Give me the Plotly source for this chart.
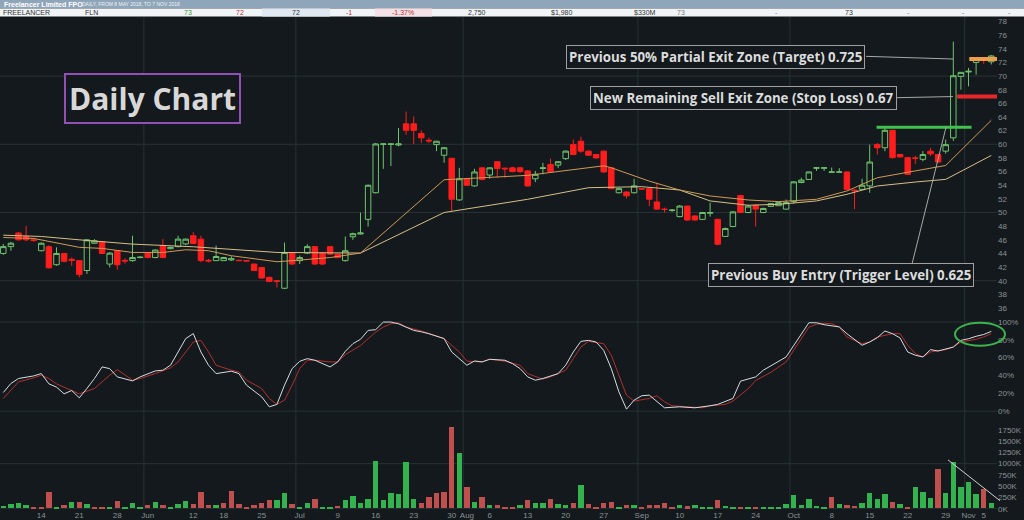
import pandas as pd
import plotly.graph_objects as go

# ASX trading sessions on the chart (Queen's Birthday 11 Jun closed)
sessions = pd.bdate_range("2018-05-07", "2018-11-06")
sessions = sessions[sessions != pd.Timestamp("2018-06-11")]
days = [d.strftime("%Y-%m-%d") for d in sessions]

# prices in cents
opens = [44.0, 45.0, 47.0, 46.5, 46.0, 44.4, 45.0, 42.35, 44.0, 43.15,
         42.95, 41.5, 45.5, 45.7, 42.45, 44.4, 43.0, 42.95, 43.4, 44.05,
         43.4, 45.15, 44.7, 45.0, 45.4, 46.6, 46.1, 43.0, 42.95, 42.95,
         43.05, 43.0, 42.95, 42.45, 41.95, 40.5, 40.0, 38.9, 44.05, 42.95,
         44.05, 45.0, 44.05, 45.0, 43.9, 42.95, 46.45, 46.85, 49.0, 52.9,
         60.0, 60.0, 59.9, 63.0, 63.0, 61.6, 60.6, 59.95, 58.4, 57.95,
         51.85, 54.95, 53.9, 56.55, 55.5, 57.45, 56.5, 56.55, 56.55, 56.1,
         54.95, 56.45, 57.05, 56.95, 57.9, 59.95, 60.45, 59.0, 58.5, 59.0,
         56.55, 52.9, 53.0, 52.9, 53.5, 53.5, 51.55, 50.5, 50.3, 49.4,
         50.95, 49.5, 49.0, 49.9, 49.0, 46.5, 47.95, 52.5, 50.0, 51.05,
         50.0, 50.9, 51.0, 50.5, 51.6, 54.4, 54.85, 56.5, 56.5, 55.9,
         55.9, 55.95, 53.3, 53.4, 53.9, 59.95, 59.5, 62.05, 58.5, 58.05,
         58.0, 57.8, 59.0, 58.5, 59.0, 60.95, 69.95, 70.6, 72.0, 72.35, 72.1]
highs = [45.4, 45.7, 47.1, 48.05, 46.3, 45.6, 45.2, 44.9, 44.1, 43.4,
         43.0, 46.1, 46.1, 45.8, 44.2, 44.5, 43.3, 46.6, 43.6, 44.2,
         44.6, 46.1, 45.0, 46.6, 46.2, 47.1, 46.6, 43.2, 45.15, 43.5,
         43.6, 43.05, 43.0, 42.5, 42.0, 40.6, 40.1, 45.6, 44.2, 43.7,
         45.35, 45.1, 44.1, 45.1, 44.0, 46.5, 47.05, 50.0, 54.1, 60.2,
         60.1, 60.1, 62.4, 64.8, 64.1, 62.05, 60.95, 60.5, 59.6, 58.0,
         56.55, 55.0, 56.4, 56.6, 56.6, 57.5, 56.6, 56.7, 56.7, 56.2,
         56.1, 57.3, 57.9, 57.5, 59.1, 60.7, 61.1, 59.1, 58.6, 59.1,
         56.6, 53.6, 53.1, 54.95, 53.6, 53.6, 54.35, 50.7, 50.5, 51.1,
         51.0, 49.6, 50.1, 51.45, 49.1, 47.8, 50.2, 52.6, 51.1, 51.2,
         50.7, 51.3, 51.6, 51.9, 54.6, 55.1, 56.0, 56.6, 56.6, 56.6,
         56.5, 56.0, 53.4, 54.95, 59.95, 60.2, 62.4, 62.1, 58.6, 58.1,
         58.3, 59.0, 59.5, 58.6, 60.7, 75.05, 70.6, 71.2, 72.6, 72.7, 73.1]
lows = [43.8, 44.4, 45.9, 45.8, 45.7, 44.3, 41.8, 42.2, 42.7, 42.2,
        40.5, 41.0, 45.4, 43.9, 41.95, 41.6, 42.5, 42.8, 43.3, 43.3,
        43.3, 43.3, 44.6, 44.9, 45.2, 45.35, 42.7, 42.7, 42.9, 42.9,
        42.9, 42.9, 42.85, 41.4, 40.3, 39.8, 39.0, 38.8, 42.3, 42.45,
        43.9, 42.3, 42.3, 43.8, 43.3, 42.8, 46.0, 46.8, 47.95, 52.8,
        56.4, 56.8, 59.7, 61.4, 60.05, 60.2, 60.2, 59.0, 57.3, 50.25,
        51.7, 53.9, 53.8, 54.7, 54.95, 55.1, 55.1, 55.9, 55.8, 53.8,
        54.45, 55.6, 55.85, 56.55, 57.7, 58.4, 58.75, 58.3, 57.9, 55.8,
        53.4, 52.8, 52.05, 52.8, 53.4, 50.95, 50.4, 50.0, 50.1, 49.3,
        48.8, 48.8, 48.9, 49.4, 45.2, 46.4, 47.85, 49.9, 49.9, 47.95,
        49.9, 50.9, 51.0, 50.4, 51.3, 54.3, 54.8, 56.1, 56.1, 55.85,
        55.85, 53.3, 50.5, 53.3, 52.9, 58.5, 59.0, 57.9, 58.1, 55.5,
        57.1, 57.5, 58.3, 57.3, 58.65, 60.5, 68.0, 68.5, 70.2, 71.8, 71.7]
closes = [45.0, 45.5, 46.0, 46.0, 45.9, 45.5, 41.9, 44.0, 42.85, 43.0,
          40.9, 46.0, 45.85, 44.0, 44.05, 42.35, 42.9, 43.4, 43.45, 43.4,
          44.5, 43.4, 44.9, 46.1, 46.1, 45.45, 42.95, 42.9, 43.55, 43.4,
          43.25, 42.95, 42.9, 41.5, 40.4, 39.9, 39.9, 44.15, 42.45, 43.4,
          45.0, 42.45, 42.45, 43.9, 43.4, 44.4, 46.9, 47.0, 54.0, 60.05,
          60.05, 60.05, 60.05, 62.05, 62.05, 60.95, 60.5, 60.45, 59.5, 51.95,
          54.95, 54.0, 55.95, 54.85, 56.55, 56.45, 56.4, 56.0, 56.0, 53.9,
          55.6, 56.55, 56.0, 57.45, 59.0, 58.5, 59.0, 58.4, 58.0, 55.95,
          53.5, 53.5, 52.45, 53.9, 53.45, 51.95, 50.5, 50.45, 50.35, 50.95,
          48.9, 48.9, 50.0, 50.0, 45.35, 47.65, 50.1, 50.0, 50.95, 50.5,
          50.6, 51.3, 51.45, 51.45, 54.5, 54.75, 55.95, 56.55, 56.55, 55.95,
          55.95, 53.4, 53.2, 54.0, 57.4, 59.5, 62.05, 58.05, 58.15, 55.6,
          57.95, 58.5, 58.6, 57.4, 59.95, 70.05, 70.55, 70.7, 72.5, 72.3, 72.95]
volumes_k = [52, 103, 125, 74, 37, 30, 368, 37, 74, 147,
             147, 88, 37, 15, 37, 155, 15, 125, 15, 66,
             147, 74, 37, 88, 170, 88, 368, 66, 74, 125,
             376, 103, 22, 74, 118, 184, 184, 346, 88, 15,
             125, 206, 37, 37, 52, 184, 273, 125, 199, 1047,
             192, 332, 310, 1032, 214, 120, 258, 346, 368, 1806,
             1231, 479, 147, 258, 66, 74, 37, 30, 74, 177,
             118, 118, 199, 88, 74, 118, 516, 88, 30, 125,
             147, 37, 66, 74, 15, 66, 66, 118, 22, 66,
             44, 81, 15, 37, 184, 52, 37, 37, 30, 37,
             37, 22, 22, 103, 287, 74, 214, 52, 30, 251,
             88, 74, 52, 125, 346, 199, 324, 140, 88, 37,
             472, 368, 236, 884, 332, 1032, 472, 582, 324, 420, 110]

# moving averages (session number, value)
fast_ma_day = [0, 4, 10, 13, 17, 21, 24, 27, 30, 36, 38, 43, 47, 58, 69, 75, 79, 80,
               85, 89, 93, 98, 102, 107, 111, 115, 120, 124, 130]
fast_ma = [46.34, 46.2, 44.9, 44.74, 44.15, 44.15, 44.54, 44.4, 43.67, 42.79, 42.94,
           43.4, 44.06, 54.8, 55.45, 56.3, 56.85, 56.56, 54.6, 53.3, 52.43, 51.84,
           51.6, 51.94, 53.16, 55.1, 56.08, 56.9, 63.52]
slow_ma_day = [0, 5, 10, 13, 17, 25, 36, 47, 58, 69, 77, 84, 89, 93, 98, 102, 107,
               111, 115, 120, 124, 130]
slow_ma = [46.68, 46.49, 46.0, 45.7, 45.37, 44.98, 44.15, 44.06, 50.0, 51.94, 53.64,
           53.79, 53.3, 51.7, 51.07, 51.2, 51.7, 52.67, 53.89, 54.47, 54.86, 58.37]

# stochastic %K / %D (session number, percent)
k_day = [0, 1, 2, 4, 5, 6, 7, 8, 9, 10, 11, 12, 13, 14, 15, 16, 17, 18, 20, 21, 22,
         23, 24, 25, 26, 27, 28, 30, 31, 32, 34, 35, 36, 37, 38, 39, 40, 41, 43, 44,
         45, 46, 47, 48, 49, 50, 51, 52, 54, 55, 56, 58, 59, 61, 62, 63, 64, 66, 67,
         68, 69, 70, 71, 73, 74, 75, 76, 77, 78, 79, 80, 81, 82, 83, 84, 85, 86, 87,
         89, 91, 93, 94, 96, 97, 99, 100, 103, 104, 105, 106, 107, 108, 110, 111,
         113, 114, 115, 116, 117, 118, 119, 120, 121, 122, 123, 125, 126, 127, 128,
         129, 130]
k_pct = [20.9, 31.0, 36.6, 39.5, 42.1, 30.6, 26.9, 19.4, 23.1, 14.9, 25.4, 36.6, 49.6,
         47.7, 38.4, 35.8, 33.9, 38.4, 45.1, 45.9, 51.5, 66.4, 81.4, 87.0, 66.4, 51.5,
         42.1, 44.8, 42.1, 29.1, 16.0, 4.8, 7.5, 29.1, 47.7, 55.9, 58.9, 57.1, 49.6,
         55.2, 67.1, 75.7, 80.6, 90.6, 91.4, 99.9, 100.0, 98.0, 90.6, 89.0, 86.9, 81.4,
         66.4, 51.5, 56.3, 55.2, 58.2, 57.1, 53.3, 47.7, 38.4, 34.7, 36.6, 42.1, 51.5,
         66.4, 78.3, 79.4, 77.6, 68.2, 47.7, 21.6, 2.2, 12.3, 17.2, 17.9, 10.4, 3.7,
         4.8, 3.7, 6.0, 7.5, 14.2, 33.6, 38.4, 45.9, 60.8, 73.9, 86.9, 99.2, 99.2,
         97.0, 94.5, 86.9, 73.9, 77.6, 82.4, 89.9, 86.9, 82.1, 66.4, 62.7, 60.8, 69.0,
         67.5, 71.9, 79.4, 81.2, 84.0, 86.0, 89.5]
d_day = [0, 1, 2, 4, 5, 6, 7, 9, 10, 12, 14, 15, 16, 17, 18, 20, 22, 23, 24, 25, 26,
         27, 28, 30, 31, 32, 34, 35, 36, 37, 38, 39, 40, 41, 43, 44, 45, 46, 47, 48,
         49, 50, 51, 52, 53, 55, 56, 58, 60, 61, 63, 64, 66, 68, 69, 71, 72, 74, 75,
         76, 77, 79, 80, 81, 82, 83, 85, 86, 87, 88, 90, 92, 93, 95, 96, 98, 99, 101,
         103, 104, 105, 106, 107, 108, 109, 110, 111, 113, 114, 115, 117, 118, 119,
         120, 121, 122, 124, 125, 126, 128, 129, 130]
d_pct = [14.2, 23.9, 32.8, 37.3, 40.3, 36.6, 30.6, 23.1, 19.4, 25.4, 40.3, 46.6, 40.3,
         34.7, 36.6, 42.1, 48.5, 55.2, 66.4, 77.6, 79.4, 66.4, 51.5, 45.9, 44.0, 34.7,
         25.4, 14.2, 7.5, 12.3, 29.1, 47.7, 57.1, 57.1, 55.2, 55.2, 63.4, 68.2, 73.7,
         81.2, 88.7, 94.3, 98.1, 99.2, 94.3, 90.0, 86.9, 81.4, 66.4, 56.0, 55.2, 58.2,
         56.0, 51.5, 42.1, 35.8, 38.4, 45.9, 59.0, 71.9, 78.3, 75.7, 62.7, 40.3, 17.9,
         11.2, 14.2, 17.2, 10.4, 6.0, 4.8, 3.7, 6.0, 7.5, 11.2, 25.0, 34.3, 43.6, 55.2,
         68.2, 81.4, 94.3, 97.5, 98.5, 98.1, 94.3, 83.2, 75.7, 77.6, 83.2, 86.9, 86.9,
         73.9, 64.5, 60.8, 66.4, 69.0, 71.9, 77.6, 80.6, 83.2, 86.9]

tick_days = ["2018-05-14", "2018-05-21", "2018-05-28", "2018-06-01", "2018-06-12",
             "2018-06-18", "2018-06-25", "2018-07-02", "2018-07-09", "2018-07-16",
             "2018-07-23", "2018-07-30", "2018-08-01", "2018-08-06", "2018-08-13",
             "2018-08-20", "2018-08-27", "2018-09-03", "2018-09-10", "2018-09-17",
             "2018-09-24", "2018-10-01", "2018-10-08", "2018-10-15", "2018-10-22",
             "2018-10-29", "2018-11-01", "2018-11-05"]
tick_text = ["14", "21", "28", "Jun", "12", "18", "25", "Jul", "9", "16", "23", "30",
             "Aug", "6", "13", "20", "27", "Sep", "10", "17", "24", "Oct", "8", "15",
             "22", "29", "Nov", "5"]

target_level = 72.5
stop_level = 67.0
entry_level = 62.5

BG = "#13191c"
GRID = "#283236"
TICK = "#8a9296"

# page geometry: plot area spans x 0..997 px, y 17..511 px
W, H, PLOT_R, PLOT_T, PLOT_B = 1024, 520, 997, 17, 511


def px(x):
    return x / PLOT_R


def py(y):
    return (PLOT_B - y) / (PLOT_B - PLOT_T)


vol_colors = []
for i, c in enumerate(closes):
    prev = closes[i - 1] if i else opens[0]
    vol_colors.append("#34b24d" if c >= prev else "#c0504e")

fig = go.Figure()
fig.add_trace(go.Candlestick(
    x=days, open=opens, high=highs, low=lows, close=closes,
    increasing=dict(line=dict(color="#6ec46e", width=1), fillcolor="rgba(0,0,0,0)"),
    decreasing=dict(line=dict(color="#ff1d1d", width=1), fillcolor="#ff1d1d"),
    whiskerwidth=0, showlegend=False, xaxis="x", yaxis="y"))
fig.add_trace(go.Scatter(x=[days[i] for i in slow_ma_day], y=slow_ma, mode="lines",
                         line=dict(color="#d8bf86", width=1), showlegend=False,
                         xaxis="x", yaxis="y"))
fig.add_trace(go.Scatter(x=[days[i] for i in fast_ma_day], y=fast_ma, mode="lines",
                         line=dict(color="#cf9a57", width=1), showlegend=False,
                         xaxis="x", yaxis="y"))

fig.add_trace(go.Scatter(x=[days[i] for i in d_day], y=d_pct, mode="lines",
                         line=dict(color="#b3302e", width=1), showlegend=False,
                         xaxis="x2", yaxis="y2"))
fig.add_trace(go.Scatter(x=[days[i] for i in k_day], y=k_pct, mode="lines",
                         line=dict(color="#d5dde0", width=1), showlegend=False,
                         xaxis="x2", yaxis="y2"))

fig.add_trace(go.Bar(x=days, y=[v * 1000 for v in volumes_k], marker_color=vol_colors,
                     marker_line_width=0, width=0.72, showlegend=False,
                     xaxis="x3", yaxis="y3"))

x_common = dict(type="category", categoryorder="array", categoryarray=days,
                range=[-0.434, 130.75], showgrid=False, zeroline=False, showline=False,
                ticks="", fixedrange=True)
y_common = dict(side="right", showgrid=False, zeroline=False, showline=False, ticks="",
                tickfont=dict(family="Liberation Sans", size=8, color=TICK))

fig.update_layout(
    width=W, height=H,
    margin=dict(l=0, r=W - PLOT_R, t=PLOT_T, b=H - PLOT_B),
    paper_bgcolor=BG, plot_bgcolor=BG,
    bargap=0, showlegend=False,
    boxgap=0.28, boxgroupgap=0,  # wider candle bodies
    xaxis=dict(x_common, anchor="y", showticklabels=False, rangeslider=dict(visible=False)),
    xaxis2=dict(x_common, anchor="y2", matches="x", showticklabels=False),
    xaxis3=dict(x_common, anchor="y3", matches="x", tickvals=tick_days, ticktext=tick_text,
                tickangle=0, tickfont=dict(family="Liberation Sans", size=8, color=TICK)),
    yaxis=dict(y_common, domain=[0.3907, 1], range=[34.72, 78.66],
               tickvals=list(range(36, 79, 2))),
    yaxis2=dict(y_common, domain=[0.1842, 0.3907], range=[-8.17, 105.9],
                tickvals=[0, 20, 40, 60, 80, 100],
                ticktext=["0%", "20%", "40%", "60%", "80%", "100%"]),
    yaxis3=dict(y_common, domain=[0, 0.1842], range=[-6600, 2006000],
                tickvals=[k * 250000 for k in range(8)],
                ticktext=[f"{k * 250}K" for k in range(8)]),
)

shapes = []
# horizontal grid lines
for lvl in (40, 50, 60, 70):
    shapes.append(dict(type="line", xref="x domain", yref="y", x0=0, x1=1, y0=lvl, y1=lvl,
                       line=dict(color=GRID, width=1), layer="below"))
for lvl in (0, 100):
    shapes.append(dict(type="line", xref="x2 domain", yref="y2", x0=0, x1=1, y0=lvl, y1=lvl,
                       line=dict(color=GRID, width=1), layer="below"))
for lvl in (0, 1000000):
    shapes.append(dict(type="line", xref="x3 domain", yref="y3", x0=0, x1=1, y0=lvl, y1=lvl,
                       line=dict(color=GRID, width=1), layer="below"))
# month dividers
for i in range(1, len(sessions)):
    if sessions[i].month != sessions[i - 1].month:
        shapes.append(dict(type="line", xref="x", yref="paper", x0=i - 0.5, x1=i - 0.5,
                           y0=0, y1=1, line=dict(color=GRID, width=1), layer="below"))

# trade levels
shapes.append(dict(type="line", xref="x", yref="y", x0=114.9, x1=127.4,
                   y0=entry_level, y1=entry_level, line=dict(color="#3ec44c", width=3)))
shapes.append(dict(type="line", xref="x", yref="y", x0=125.5, x1=130.75,
                   y0=stop_level, y1=stop_level, line=dict(color="#e8262b", width=4)))
shapes.append(dict(type="line", xref="x", yref="y", x0=127.1, x1=130.75,
                   y0=target_level, y1=target_level, line=dict(color="#f29d4a", width=4)))

# connector lines from the note boxes
for x0, y0, x1, y1 in [(866, 56.5, 953, 59.2), (897, 98, 953, 96.9), (912, 265, 946, 127.7)]:
    shapes.append(dict(type="line", xref="paper", yref="paper", x0=px(x0), y0=py(y0),
                       x1=px(x1), y1=py(y1), line=dict(color="#a8a8a8", width=1)))

# green ring on the stochastic, trend line on the volume
shapes.append(dict(type="circle", xref="paper", yref="paper", x0=px(955), x1=px(1005),
                   y0=py(347), y1=py(324), line=dict(color="#3cb44b", width=2)))
shapes.append(dict(type="line", xref="paper", yref="paper", x0=px(948), y0=py(461.7),
                   x1=px(1000), y1=py(502.7), line=dict(color="#d0d0d0", width=1)))

# header strip
shapes.append(dict(type="rect", xref="paper", yref="paper", x0=px(0), x1=px(W),
                   y0=py(8.5), y1=py(0), fillcolor="#8fa5ba", line_width=0))
shapes.append(dict(type="rect", xref="paper", yref="paper", x0=px(0), x1=px(W),
                   y0=py(16.5), y1=py(8.5), fillcolor="#f1f4f7", line_width=0))
shapes.append(dict(type="rect", xref="paper", yref="paper", x0=px(262), x1=px(330),
                   y0=py(16.5), y1=py(8.5), fillcolor="#dfe8f1", line_width=0))
shapes.append(dict(type="rect", xref="paper", yref="paper", x0=px(375), x1=px(432),
                   y0=py(16.5), y1=py(8.5), fillcolor="#f3e0e6", line_width=0))
fig.update_layout(shapes=shapes)

hdr_font = "Liberation Sans Narrow, Liberation Sans, sans-serif"
fig.add_annotation(x=px(2), y=py(4.3), xref="paper", yref="paper", xanchor="left",
                   yanchor="middle", text="<b>Freelancer Limited FPO</b>", showarrow=False,
                   font=dict(family=hdr_font, size=7, color="#ffffff"))
fig.add_annotation(x=px(80), y=py(4.3), xref="paper", yref="paper", xanchor="left",
                   yanchor="middle", text="DAILY, FROM 8 MAY 2018, TO 7 NOV 2018",
                   showarrow=False, font=dict(family=hdr_font, size=5, color="#eef2f6"))
fig.add_annotation(x=px(1), y=py(12.5), xref="paper", yref="paper", text="FREELANCER",
                   xanchor="left", yanchor="middle", showarrow=False,
                   font=dict(family=hdr_font, size=7, color="#333333"))
row = [("FLN", 91, "#333333"), ("73", 188, "#3a9a3a"),
       ("72", 240, "#c03030"), ("72", 296, "#333333"), ("-1", 349, "#c03030"),
       ("-1.37%", 403, "#c03030"), ("2,750", 477, "#333333"), ("$1,980", 562, "#333333"),
       ("$330M", 645, "#333333"), ("73", 681, "#777777"), ("-", 776, "#777777"),
       ("73", 849, "#333333"), ("-", 908, "#777777"), ("-", 963, "#777777"),
       ("-", 1009, "#777777")]
for txt, cx, col in row:
    fig.add_annotation(x=px(cx), y=py(12.5), xref="paper", yref="paper", text=txt,
                       xanchor="center", yanchor="middle", showarrow=False,
                       font=dict(family=hdr_font, size=7, color=col))

# note boxes
note_font = "Open Sans, Noto Sans, sans-serif"
fig.add_annotation(x=px(152), y=py(98.5), xref="paper", yref="paper", text="Daily Chart",
                   xanchor="center", yanchor="middle",
                   showarrow=False, bgcolor=BG, bordercolor="#9150b3", borderwidth=2,
                   borderpad=3,
                   font=dict(family=note_font, size=30, color="#d8d8d8", weight="bold"))
notes = [("Previous 50% Partial Exit Zone (Target) 0.725", 715.5, 57),
         ("New Remaining Sell Exit Zone (Stop Loss) 0.67", 743.5, 98),
         ("Previous Buy Entry (Trigger Level) 0.625", 840.5, 276.5)]
for txt, cx, cy in notes:
    fig.add_annotation(x=px(cx), y=py(cy), xref="paper", yref="paper", text=txt,
                       xanchor="center", yanchor="middle",
                       showarrow=False, bgcolor=BG, bordercolor="#a0a0a0", borderwidth=1,
                       borderpad=2,
                       font=dict(family=note_font, size=13.3, color="#dcdcdc", weight="bold"))

fig.write_html("out.html", config={"displayModeBar": False},
               post_script="document.body.style.margin='0';"
                           "document.body.style.overflow='hidden';")
